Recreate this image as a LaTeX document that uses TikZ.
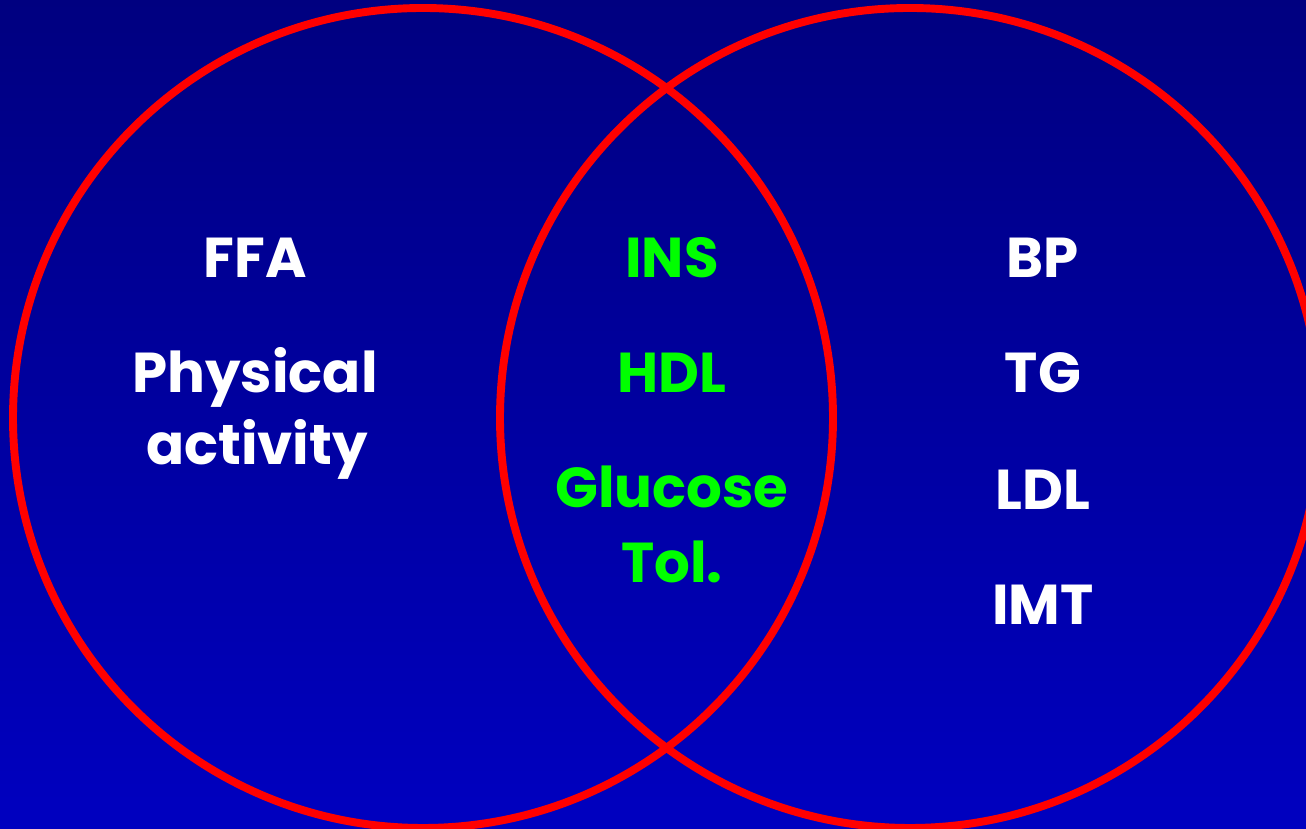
\documentclass[tikz,border=0pt]{standalone}
\usepackage{fontspec}
\setmainfont{Poppins}
\usetikzlibrary{positioning}
\definecolor{bgtop}{RGB}{0,0,128}
\definecolor{bgbot}{RGB}{0,0,192}
\definecolor{ringred}{RGB}{255,0,0}
\definecolor{sharedgreen}{RGB}{0,255,0}
\tikzset{
	ring/.style={draw=ringred, line width=4.5pt},
	factor/.style={anchor=base, text=white, font=\fontsize{32}{36}\selectfont\bfseries},
	shared/.style={factor, text=sharedgreen}
}

\begin{document}
\begin{tikzpicture}
		% Background (fixes the page size)
		\shade[top color=bgtop, bottom color=bgbot] (0,0) rectangle (26.12,16.58);
		\useasboundingbox (0,0) rectangle (26.12,16.58);
		\clip (0,0) rectangle (26.12,16.58);

		% The two circles
		\draw[ring] (8.46,8.22) circle (8.2);
		\draw[ring] (18.2,8.22) circle (8.2);

		% Left circle only
		\node[factor] (ffa) at (5.10, 11.02) {FFA};
		\node[factor] (phys) at (5.10, 8.72) {Physical};
		\node[factor] (act) at (5.14, 7.28) {activity};

		% Overlap
		\node[shared] (ins) at (13.44, 11.02) {INS};
		\node[shared] (hdl) at (13.44, 8.72) {HDL};
		\node[shared] (gluc) at (13.44, 6.42) {Glucose};
		\node[shared] (tol) at (13.44, 4.92) {Tol.};

		% Right circle only
		\node[factor] (bp) at (20.86, 11.02) {BP};
		\node[factor] (tg) at (20.86, 8.72) {TG};
		\node[factor] (ldl) at (20.86, 6.38) {LDL};
		\node[factor] (imt) at (20.86, 4.08) {IMT};
	\end{tikzpicture}
\end{document}
